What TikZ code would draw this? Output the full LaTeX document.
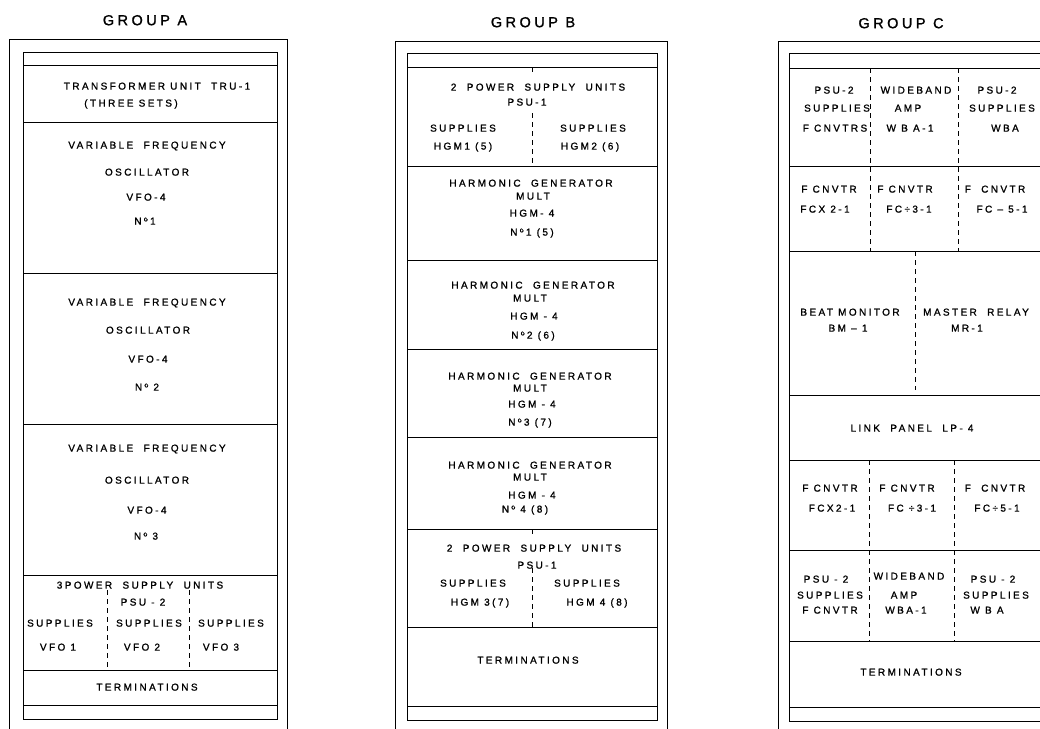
\documentclass[tikz,border=0pt]{standalone}
\usepackage{fontspec}
\newfontfamily\draft[LetterSpace=24,FakeBold=1.2]{Liberation Sans}
\begin{document}
\begin{tikzpicture}[x=1pt,y=-1pt,line width=1pt,
  lbl/.style={font=\draft\fontsize{10}{12}\selectfont, inner sep=0pt, text height=7.2pt, text depth=0pt},
  ttl/.style={font=\draft\fontsize{14.5}{17}\selectfont, inner sep=0pt, text height=10.4pt, text depth=0pt},
  dsh/.style={line width=0.8pt, dash pattern=on 5pt off 4pt}]
\useasboundingbox (0,0) rectangle (1040,728);
\clip (0,0) rectangle (1040,728);
% ---------------- GROUP A ----------------
\draw (9,735) -- (9,39) -- (287,39) -- (287,735);
\draw (23,52) rectangle (277,719);
\foreach \yy in {65,122,273,424,575,670,705} \draw (23,\yy) -- (277,\yy);
\draw[dsh] (107,590) -- (107,670);
\draw[dsh] (189,590) -- (189,670);
\node[ttl] (tA) at (145,20) {GROUP A};
\node[lbl] (a1) at (157,86) {TRANSFORMER UNIT~ TRU-1};
\node[lbl] (a2) at (131,103) {(THREE SETS)};
\node[lbl] (a3) at (147,145) {VARIABLE~ FREQUENCY};
\node[lbl] (a4) at (147,172) {OSCILLATOR};
\node[lbl] (a5) at (146,197) {VFO-4};
\node[lbl] (a6) at (145,221) {Nº1};
\node[lbl] (a7) at (147,302) {VARIABLE~ FREQUENCY};
\node[lbl] (a8) at (148,330) {OSCILLATOR};
\node[lbl] (a9) at (148,359) {VFO-4};
\node[lbl] (a10) at (147,387) {Nº 2};
\node[lbl] (a11) at (147,448) {VARIABLE~ FREQUENCY};
\node[lbl] (a12) at (147,480) {OSCILLATOR};
\node[lbl] (a13) at (147,510) {VFO-4};
\node[lbl] (a14) at (146,536) {Nº 3};
\node[lbl] (a15) at (140,585) {3POWER~ SUPPLY~ UNITS};
\node[lbl] (a16) at (143,602) {PSU - 2};
\node[lbl] (a17) at (60,623) {SUPPLIES};
\node[lbl] (a18) at (149,623) {SUPPLIES};
\node[lbl] (a19) at (231,623) {SUPPLIES};
\node[lbl] (a20) at (58,647) {VFO 1};
\node[lbl] (a21) at (142,647) {VFO 2};
\node[lbl] (a22) at (221,647) {VFO 3};
\node[lbl] (a23) at (147,687) {TERMINATIONS};
% ---------------- GROUP B ----------------
\draw (395,735) -- (395,41) -- (667,41) -- (667,735);
\draw (407,53) rectangle (657,720);
\foreach \yy in {67,166,260,349,437,529,627,706} \draw (407,\yy) -- (657,\yy);
\draw[dsh] (532,67) -- (532,75);
\draw[dsh] (532,113) -- (532,166);
\draw[dsh] (532,529) -- (532,537);
\draw[dsh] (532,568) -- (532,627);
\node[ttl] (tB) at (533,22) {GROUP B};
\node[lbl] (b1) at (538,87) {2~ POWER~ SUPPLY~ UNITS};
\node[lbl] (b2) at (527,102) {PSU-1};
\node[lbl] (b3) at (463,128) {SUPPLIES};
\node[lbl] (b4) at (593,128) {SUPPLIES};
\node[lbl] (b5) at (463,146) {HGM1 (5)};
\node[lbl] (b6) at (590,146) {HGM2 (6)};
\node[lbl] (b7) at (531,183) {HARMONIC~ GENERATOR};
\node[lbl] (b8) at (533,196) {MULT};
\node[lbl] (b9) at (532,213) {HGM- 4};
\node[lbl] (b10) at (532,232) {Nº1 (5)};
\node[lbl] (b11) at (533,285) {HARMONIC~ GENERATOR};
\node[lbl] (b12) at (530,298) {MULT};
\node[lbl] (b13) at (534,316) {HGM - 4};
\node[lbl] (b14) at (533,335) {Nº2 (6)};
\node[lbl] (b15) at (530,376) {HARMONIC~ GENERATOR};
\node[lbl] (b16) at (530,388) {MULT};
\node[lbl] (b17) at (532,404) {HGM - 4};
\node[lbl] (b18) at (530,422) {Nº3 (7)};
\node[lbl] (b19) at (530,465) {HARMONIC~ GENERATOR};
\node[lbl] (b20) at (530,477) {MULT};
\node[lbl] (b21) at (532,495) {HGM - 4};
\node[lbl] (b22) at (525,509) {Nº 4 (8)};
\node[lbl] (b23) at (534,548) {2~ POWER~ SUPPLY~ UNITS};
\node[lbl] (b24) at (537,565) {PSU-1};
\node[lbl] (b25) at (473,583) {SUPPLIES};
\node[lbl] (b26) at (587,583) {SUPPLIES};
\node[lbl] (b27) at (480,602) {HGM 3(7)};
\node[lbl] (b28) at (597,602) {HGM 4 (8)};
\node[lbl] (b29) at (528,660) {TERMINATIONS};
% ---------------- GROUP C ----------------
\draw (778,735) -- (778,41) -- (1070,41);
\draw (789,53) rectangle (1056,721);
\foreach \yy in {68,166,251,395,460,550,641,707} \draw (789,\yy) -- (1056,\yy);
\draw[dsh] (870,68) -- (870,251);
\draw[dsh] (958,68) -- (958,251);
\draw[dsh] (915,251) -- (915,390);
\draw[dsh] (869,460) -- (869,641);
\draw[dsh] (954,460) -- (954,641);
\node[ttl] (tC) at (901,23) {GROUP C};
\node[lbl] (c1) at (834,90) {PSU-2};
\node[lbl] (c2) at (837,108) {SUPPLIES};
\node[lbl] (c3) at (835,128) {F CNVTRS};
\node[lbl] (c4) at (916,90) {WIDEBAND};
\node[lbl] (c5) at (908,108) {AMP};
\node[lbl] (c6) at (910,128) {W B A-1};
\node[lbl] (c7) at (997,90) {PSU-2};
\node[lbl] (c8) at (1002,108) {SUPPLIES};
\node[lbl] (c9) at (1005,128) {WBA};
\node[lbl] (c10) at (829,189) {F CNVTR};
\node[lbl] (c11) at (825,209) {FCX 2-1};
\node[lbl] (c12) at (905,189) {F CNVTR};
\node[lbl] (c13) at (909,209) {FC÷3-1};
\node[lbl] (c14) at (995,189) {F~ CNVTR};
\node[lbl] (c15) at (1002,209) {FC – 5-1};
\node[lbl] (c16) at (850,312) {BEAT MONITOR};
\node[lbl] (c17) at (848,328) {BM – 1};
\node[lbl] (c18) at (976,312) {MASTER~ RELAY};
\node[lbl] (c19) at (967,328) {MR-1};
\node[lbl] (c20) at (912,428) {LINK~ PANEL~ LP- 4};
\node[lbl] (c21) at (830,488) {F CNVTR};
\node[lbl] (c22) at (907,488) {F CNVTR};
\node[lbl] (c23) at (995,488) {F~ CNVTR};
\node[lbl] (c24) at (832,508) {FCX2-1};
\node[lbl] (c25) at (912,508) {FC ÷3-1};
\node[lbl] (c26) at (997,508) {FC÷5-1};
\node[lbl] (c27) at (826,579) {PSU - 2};
\node[lbl] (c28) at (830,595) {SUPPLIES};
\node[lbl] (c29) at (830,610) {F CNVTR};
\node[lbl] (c30) at (909,576) {WIDEBAND};
\node[lbl] (c31) at (904,595) {AMP};
\node[lbl] (c32) at (906,610) {WBA-1};
\node[lbl] (c33) at (993,579) {PSU - 2};
\node[lbl] (c34) at (996,595) {SUPPLIES};
\node[lbl] (c35) at (987,610) {W B A};
\node[lbl] (c36) at (911,672) {TERMINATIONS};
\end{tikzpicture}
\end{document}
